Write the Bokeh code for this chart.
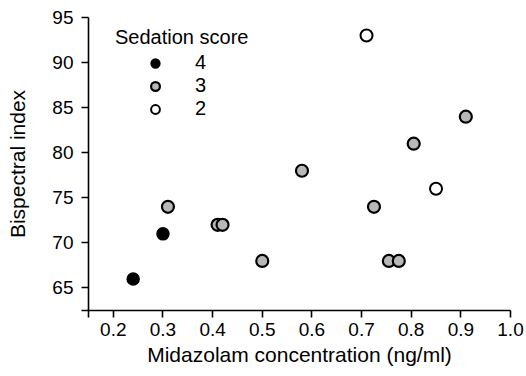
from bokeh.plotting import figure
from bokeh.models import Range1d, FixedTicker, CustomJSTickFormatter, Legend, LegendItem
from bokeh.embed import file_html
from bokeh.resources import INLINE

# Data
score4_conc = [0.24, 0.30]
score4_bis = [66, 71]
score3_conc = [0.31, 0.41, 0.42, 0.50, 0.58, 0.725, 0.755, 0.775, 0.805, 0.91]
score3_bis = [74, 72, 72, 68, 78, 74, 68, 68, 81, 84]
score2_conc = [0.71, 0.85]
score2_bis = [93, 76]

x_ticks = [0.15, 0.2, 0.3, 0.4, 0.5, 0.6, 0.7, 0.8, 0.9, 1.0]
y_ticks = [62.5, 65, 70, 75, 80, 85, 90, 95]

FONT = "Liberation Sans"

p = figure(width=526, height=376, output_backend="svg", toolbar_location=None,
           x_range=Range1d(0.15, 1.0), y_range=Range1d(62.5, 95),
           min_border_left=88, min_border_right=16, min_border_top=17, min_border_bottom=66)
p.outline_line_color = None
p.xgrid.visible = False
p.ygrid.visible = False
p.background_fill_color = "white"
p.border_fill_color = "white"

for ax in (p.xaxis[0], p.yaxis[0]):
    ax.axis_line_width = 1.6
    ax.major_tick_line_width = 1.6
    ax.major_tick_out = 7
    ax.major_tick_in = 0
    ax.minor_tick_line_color = None
    ax.major_label_text_font = FONT
    ax.major_label_text_font_size = "19px"
    ax.major_label_text_color = "black"
    ax.axis_label_text_font = FONT
    ax.axis_label_text_font_size = "21px"
    ax.axis_label_text_font_style = "normal"
    ax.axis_label_text_color = "black"
    ax.axis_line_color = "black"
    ax.major_tick_line_color = "black"

p.xaxis[0].ticker = FixedTicker(ticks=x_ticks)
p.yaxis[0].ticker = FixedTicker(ticks=y_ticks)
p.xaxis[0].formatter = CustomJSTickFormatter(code="return tick < 0.17 ? '' : tick.toFixed(1);")
p.yaxis[0].formatter = CustomJSTickFormatter(code="return tick < 63 ? '' : tick.toFixed(0);")
p.xaxis[0].axis_label = "Midazolam concentration (ng/ml)"
p.yaxis[0].axis_label = "Bispectral index"
p.xaxis[0].major_label_standoff = 5
p.yaxis[0].major_label_standoff = 8
p.xaxis[0].axis_label_standoff = 4
p.yaxis[0].axis_label_standoff = 20

r4 = p.scatter(score4_conc, score4_bis, size=12, fill_color="black", line_color="black", line_width=1.5)
r3 = p.scatter(score3_conc, score3_bis, size=12, fill_color="#b8b8b8", line_color="black", line_width=2.2)
r2 = p.scatter(score2_conc, score2_bis, size=12, fill_color="white", line_color="black", line_width=2)

legend = Legend(items=[LegendItem(label="4", renderers=[r4]),
                       LegendItem(label="3", renderers=[r3]),
                       LegendItem(label="2", renderers=[r2])],
                location=(27, 190), title="Sedation score")
legend.title_text_font = FONT
legend.title_text_font_size = "20px"
legend.title_text_font_style = "normal"
legend.title_text_color = "black"
legend.title_standoff = 2
legend.label_text_font = FONT
legend.label_text_font_size = "20px"
legend.label_text_color = "black"
legend.glyph_width = 80
legend.glyph_height = 22
legend.label_height = 20
legend.label_standoff = 0
legend.spacing = 0
legend.padding = 0
legend.margin = 0
legend.background_fill_alpha = 0
legend.border_line_alpha = 0
p.add_layout(legend, "center")

open("out.html", "w").write(file_html(p, INLINE))
